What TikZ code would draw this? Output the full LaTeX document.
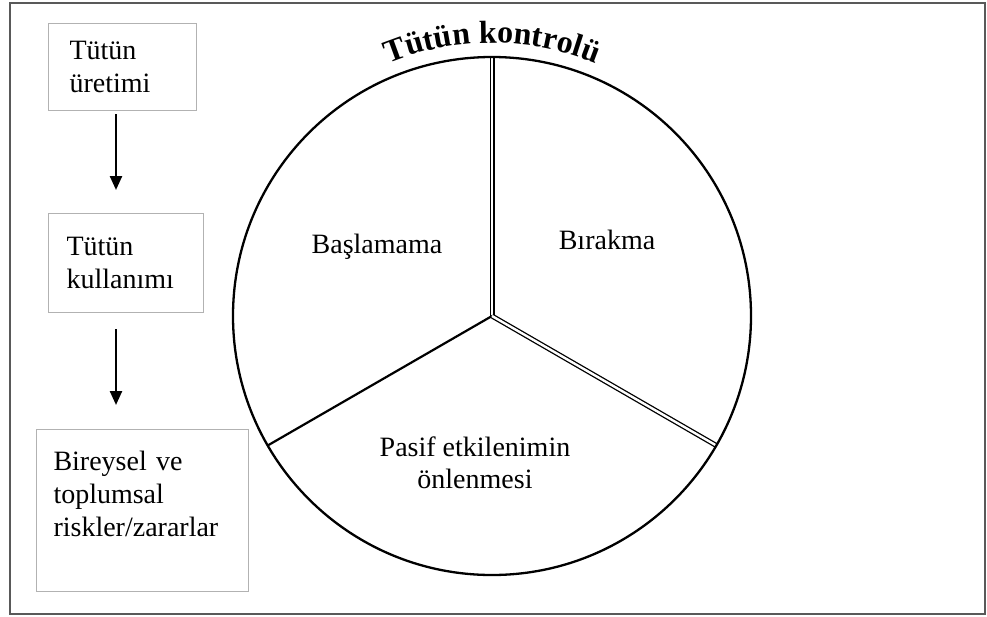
\documentclass[tikz,border=0pt]{standalone}
\usepackage{fontspec}
\setmainfont{Liberation Serif}
\usetikzlibrary{arrows.meta,decorations.text}

\begin{document}
\begin{tikzpicture}[x=1pt,y=1pt,
  box/.style={draw=gray!60, line width=1pt, anchor=north west, align=left,
    inner xsep=18pt, inner ysep=0pt, font=\fontsize{28}{33}\selectfont},
  flow/.style={-{Triangle[length=14pt,width=12pt]}, line width=2.4pt},
  part/.style={align=center, font=\fontsize{28}{32}\selectfont},
  split/.style={double, line width=1.3pt, double distance=2.4pt}]
  \useasboundingbox (0,0) rectangle (987,-616);
  % Frame
  \draw[line width=2pt, gray!70!black] (10,-3) rectangle (985,-614);
  % Left chain
  \node[box, inner xsep=21pt, text width=106pt, minimum height=87pt] (uretim) at (48,-23) {Tütün\\üretimi};
  \node[box, text width=119pt, minimum height=99pt] (kullanim) at (48,-213) {Tütün\\kullanımı};
  \node[box, inner xsep=17pt, text width=178pt, minimum height=162pt] (risk) at (36,-429)
    {Bireysel ve\\toplumsal\\riskler/zararlar\\\mbox{}};
  \draw[flow, shorten <=3pt, shorten >=23pt] ([xshift=68pt]uretim.south west) -- ([xshift=68pt]kullanim.north west);
  \draw[flow, shorten <=16pt, shorten >=24pt] ([xshift=68pt]kullanim.south west) -- ([xshift=80pt]risk.north west);
  % Pie
  \node[circle, minimum size=518pt, inner sep=0pt, outer sep=0pt] (pie) at (492,-316) {};
  \draw[split] (pie.center) -- (pie.90);
  \draw[line width=2.2pt] (pie.center) -- (pie.210);
  \draw[split] (pie.center) -- (pie.330);
  \draw[line width=2.3pt] (pie.center) circle[radius=259];
  \node[part] (basla) at (377,-247) {Başlamama};
  \node[part] (birak) at (607,-240) {Bırakma};
  \node[part] (pasif) at (475,-463) {Pasif etkilenimin\\önlenmesi};
  % Title on the arc
  \path[decorate, decoration={text along path, text align=center,
    text={|\bfseries\fontsize{32}{32}\selectfont|Tütün kontrolü}}]
    (pie.center) ++(150:273) arc[start angle=150, end angle=30, radius=273];
\end{tikzpicture}
\end{document}
